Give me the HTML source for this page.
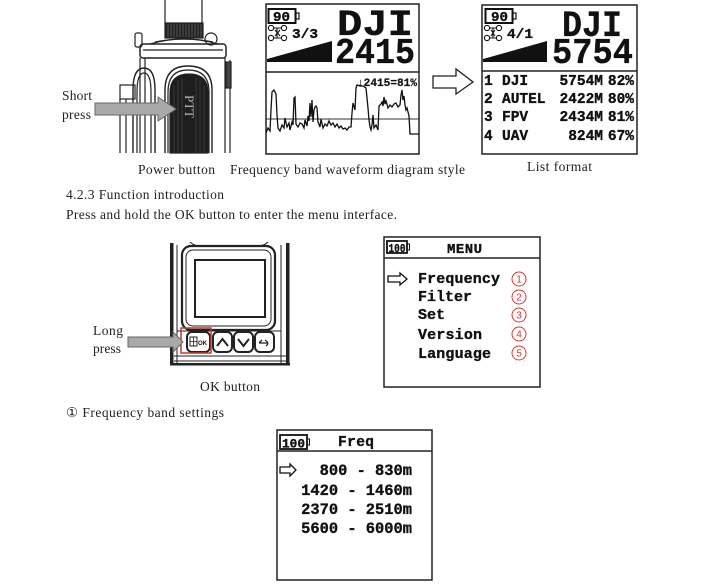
<!DOCTYPE html>
<html><head><meta charset="utf-8"><style>
html,body{margin:0;padding:0;background:#fff;}
svg{display:block;}
.s{font-family:"Liberation Serif","DejaVu Serif",serif;font-size:13.5px;fill:#222;}
.m{font-family:"Liberation Mono","DejaVu Sans Mono",monospace;font-weight:bold;fill:#111;stroke:#111;stroke-width:0.35px;}
</style></head><body>
<svg width="717" height="584" viewBox="0 0 717 584" xmlns="http://www.w3.org/2000/svg">
<rect width="717" height="584" fill="#fff"/>

<!-- ===== Top-left device ===== -->
<g fill="none" stroke="#222" stroke-width="1.2">
  <line x1="165" y1="0" x2="165" y2="24"/>
  <line x1="202" y1="0" x2="202" y2="24"/>
  <rect x="165" y="23" width="38" height="15" fill="#222"/>
  <g stroke="#777" stroke-width="0.6">
    <line x1="168" y1="24" x2="168" y2="37"/><line x1="171" y1="24" x2="171" y2="37"/><line x1="174" y1="24" x2="174" y2="37"/>
    <line x1="177" y1="24" x2="177" y2="37"/><line x1="180" y1="24" x2="180" y2="37"/><line x1="183" y1="24" x2="183" y2="37"/>
    <line x1="186" y1="24" x2="186" y2="37"/><line x1="189" y1="24" x2="189" y2="37"/><line x1="192" y1="24" x2="192" y2="37"/>
    <line x1="195" y1="24" x2="195" y2="37"/><line x1="198" y1="24" x2="198" y2="37"/><line x1="201" y1="24" x2="201" y2="37"/>
  </g>
  <path d="M150 44 Q184 34 218 44"/>
  <path d="M155 42 Q184 36 213 42"/>
  <rect x="140" y="44" width="86" height="14" rx="3" stroke-width="1.5"/>
  <line x1="143" y1="50" x2="223" y2="50"/>
  <rect x="135" y="33" width="7" height="14" rx="2"/>
  <circle cx="211" cy="39" r="6"/>
  <path d="M140 58 V153 M145 58 V153 M225 58 V153 M230 60 V153"/>
  <rect x="226" y="62" width="5" height="26" fill="#444"/>
  <path d="M133 153 V90 Q133 68 144 68 Q155 68 155 90 V153" stroke-width="1.4"/>
  <path d="M137 153 V92 Q137 73 144 73 Q151 73 151 92 V153"/>
  <rect x="120" y="85" width="15" height="14"/>
  <path d="M120 99 V153 M126 99 V153"/>
  <path d="M165 153 V90 Q165 66 188 66 Q212 66 212 90 V153" stroke-width="1.4"/>
  <path d="M168 153 V92 Q168 70 188 70 Q209 70 209 92 V153"/>
  <path d="M170 153 V93 Q170 74 189 74 Q208 74 208 93 V153 Z" fill="#1e1e1e"/>
  <g stroke="#4a4a4a" stroke-width="0.6">
    <line x1="174" y1="85" x2="174" y2="153"/><line x1="178" y1="80" x2="178" y2="153"/><line x1="182" y1="78" x2="182" y2="153"/>
    <line x1="196" y1="78" x2="196" y2="153"/><line x1="200" y1="80" x2="200" y2="153"/><line x1="204" y1="85" x2="204" y2="153"/>
  </g>
</g>
<text transform="translate(185,95) rotate(90)" font-family="Liberation Serif,serif" font-size="13" fill="#bbb">PTT</text>
<polygon points="95,103 158,103 158,97 176,109 158,121 158,115 95,115" fill="#a9a9a9" stroke="#666" stroke-width="1"/>
<text class="s" x="62" y="100" textLength="30">Short</text>
<text class="s" x="62" y="119" textLength="29">press</text>
<text class="s" x="138" y="174" textLength="77">Power button</text>
<text class="s" x="230" y="174" textLength="235">Frequency band waveform diagram style</text>

<!-- ===== Waveform screen ===== -->
<rect x="266" y="4" width="153" height="150" fill="none" stroke="#222" stroke-width="1.5"/>
<line x1="266" y1="72" x2="419" y2="72" stroke="#222" stroke-width="1.5"/>
<rect x="268.5" y="9" width="27" height="14" fill="none" stroke="#111" stroke-width="2"/>
<rect x="296" y="13" width="3" height="6" fill="none" stroke="#111" stroke-width="1.2"/>
<text class="m" x="273" y="21" font-size="14" textLength="17" lengthAdjust="spacingAndGlyphs">90</text>
<g fill="none" stroke="#111" stroke-width="1.1">
  <circle cx="271" cy="28" r="2.6"/><circle cx="284" cy="28" r="2.6"/>
  <circle cx="271" cy="38" r="2.6"/><circle cx="284" cy="38" r="2.6"/>
  <path d="M274 28 H281 M274 38 H281 M277 28 V38 M275 30 L280 36 M280 30 L275 36"/>
</g>
<text class="m" x="292" y="38" font-size="14" textLength="26" lengthAdjust="spacingAndGlyphs">3/3</text>
<polygon points="267,62 267,59 332,41 332,62" fill="#111"/>
<text class="m" x="337" y="35" font-size="37" textLength="76" lengthAdjust="spacingAndGlyphs">DJI</text>
<text class="m" x="335" y="63" font-size="36" textLength="80" lengthAdjust="spacingAndGlyphs">2415</text>
<text class="m" x="357" y="86" font-size="11" textLength="60" lengthAdjust="spacingAndGlyphs" style="stroke-width:0.2px">↓2415=81%</text>
<line x1="266" y1="119" x2="419" y2="119" stroke="#333" stroke-width="1"/>
<polyline fill="none" stroke="#111" stroke-width="1.3" points="266,133 268,128 270,131 271,110 272,92 274,90 276,94 277,115 278,128 280,131 282,125 284,128 285,118 287,127 289,123 290,130 292,122 293,125 294,98 295,97 296,124 298,127 300,123 302,124 304,128 305,120 307,126 308,116 309,121 310,103 311,117 312,100 313,122 314,110 315,107 316,106 317,108 318,122 320,127 321,119 323,128 325,124 327,126 329,121 331,125 333,123 335,127 337,124 339,128 341,126 343,129 345,128 347,130 349,127 351,127 352,113 353,103 355,110 356,88 357,85 360,86 363,86 366,88 368,108 369,120 370,127 371,130 372,125 373,115 374,128 376,125 378,130 379,106 381,104 382,102 383,106 384,97 385,104 386,101 388,108 390,105 392,107 394,104 396,103 398,107 400,105 401,95 402,90 403,100 404,96 405,105 406,110 407,108 408,112 409,116 410,134 419,134"/>

<!-- hollow arrow -->
<polygon points="433,76 456,76 456,69 473,82 456,94 456,88 433,88" fill="#fff" stroke="#222" stroke-width="1.3"/>

<!-- ===== List screen ===== -->
<rect x="482" y="5" width="155" height="149" fill="none" stroke="#222" stroke-width="1.5"/>
<line x1="482" y1="71" x2="637" y2="71" stroke="#222" stroke-width="1.5"/>
<rect x="485.5" y="9" width="27" height="14" fill="none" stroke="#111" stroke-width="2"/>
<rect x="513" y="13" width="3" height="6" fill="none" stroke="#111" stroke-width="1.2"/>
<text class="m" x="491" y="21" font-size="14" textLength="17" lengthAdjust="spacingAndGlyphs">90</text>
<g fill="none" stroke="#111" stroke-width="1.1">
  <circle cx="487" cy="28" r="2.6"/><circle cx="499" cy="28" r="2.6"/>
  <circle cx="487" cy="38" r="2.6"/><circle cx="499" cy="38" r="2.6"/>
  <path d="M490 28 H496 M490 38 H496 M493 28 V38 M491 30 L495 36 M495 30 L491 36"/>
</g>
<text class="m" x="507" y="38" font-size="14" textLength="26" lengthAdjust="spacingAndGlyphs">4/1</text>
<polygon points="483,62 483,59 547,41 547,62" fill="#111"/>
<text class="m" x="562" y="36" font-size="37" textLength="60" lengthAdjust="spacingAndGlyphs">DJI</text>
<text class="m" x="552" y="63" font-size="36" textLength="81" lengthAdjust="spacingAndGlyphs">5754</text>
<g class="m" font-size="14.5">
  <text x="484" y="85">1</text><text x="502" y="85">DJI</text>
  <text x="603" y="85" text-anchor="end">5754M</text><text x="634" y="85" text-anchor="end">82%</text>
  <text x="484" y="103">2</text><text x="502" y="103">AUTEL</text>
  <text x="603" y="103" text-anchor="end">2422M</text><text x="634" y="103" text-anchor="end">80%</text>
  <text x="484" y="121">3</text><text x="502" y="121">FPV</text>
  <text x="603" y="121" text-anchor="end">2434M</text><text x="634" y="121" text-anchor="end">81%</text>
  <text x="484" y="140">4</text><text x="502" y="140">UAV</text>
  <text x="603" y="140" text-anchor="end">824M</text><text x="634" y="140" text-anchor="end">67%</text>
</g>
<text class="s" x="527" y="171" textLength="65">List format</text>

<!-- ===== Section text ===== -->
<text class="s" x="66" y="199" textLength="158">4.2.3 Function introduction</text>
<text class="s" x="66" y="219" textLength="331">Press and hold the OK button to enter the menu interface.</text>

<!-- ===== Middle device ===== -->
<g fill="none" stroke="#222">
  <rect x="170" y="243" width="3.5" height="122" fill="#222" stroke="none"/>
  <rect x="286" y="243" width="3.5" height="122" fill="#222" stroke="none"/>
  <path d="M177 245 V365 M281 245 V365" stroke-width="1"/>
  <path d="M190 242 Q195 247 205 246 M268 242 Q263 247 253 246" stroke-width="1"/>
  <rect x="182" y="246" width="93" height="84" rx="9" stroke-width="2.2"/>
  <rect x="186" y="250" width="85" height="76" rx="7" stroke-width="1"/>
  <rect x="195" y="260" width="70" height="57" stroke-width="2"/>
  <path d="M177 331 H281" stroke-width="1"/>
  <rect x="187" y="332" width="23" height="20" rx="5" stroke-width="2"/>
  <rect x="213" y="332" width="19" height="20" rx="5" stroke-width="2"/>
  <rect x="234" y="332" width="19" height="20" rx="5" stroke-width="2"/>
  <rect x="255" y="332" width="19" height="20" rx="5" stroke-width="2"/>
  <polyline points="217,346 222.5,339 228,346" stroke-width="2"/>
  <polyline points="238,339 243.5,346 249,339" stroke-width="2"/>
  <rect x="190" y="337" width="7" height="9" stroke-width="1"/>
  <path d="M190 341.5 H197 M193.5 337 V346" stroke-width="0.8"/>
  <path d="M259 343 H268 M259 343 L262 340 M265 340 Q270 343 266 346" stroke-width="1.3"/>
  <path d="M174 356 H286 M174 361 H286" stroke-width="1"/>
  <rect x="170" y="363" width="120" height="2.5" fill="#222" stroke="none"/>
</g>
<text x="198" y="345" font-family="Liberation Sans,sans-serif" font-size="6" font-weight="bold" fill="#111">OK</text>
<rect x="181" y="328" width="30" height="25" fill="none" stroke="#c0392b" stroke-width="1.5"/>
<polygon points="128,337 173,337 173,332 183,342 173,352 173,347 128,347" fill="#a9a9a9" stroke="#666" stroke-width="1"/>
<text class="s" x="93" y="335" textLength="30">Long</text>
<text class="s" x="93" y="353" textLength="28">press</text>
<text class="s" x="200" y="391" textLength="60">OK button</text>

<!-- ===== Menu screen ===== -->
<rect x="384" y="237" width="156" height="150" fill="none" stroke="#222" stroke-width="1.5"/>
<line x1="384" y1="258" x2="540" y2="258" stroke="#222" stroke-width="1.5"/>
<rect x="387" y="241" width="20" height="12" fill="none" stroke="#111" stroke-width="1.8"/>
<rect x="407" y="244" width="2.5" height="6" fill="none" stroke="#111" stroke-width="1"/>
<text class="m" x="388.5" y="252" font-size="12" textLength="17" lengthAdjust="spacingAndGlyphs">100</text>
<text class="m" x="447" y="253" font-size="14" textLength="35">MENU</text>
<polygon points="388,276 400,276 400,273 407,279 400,285 400,282 388,282" fill="none" stroke="#111" stroke-width="1.3"/>
<g class="m" font-size="15">
  <text x="418" y="283" textLength="82">Frequency</text>
  <text x="418" y="301" textLength="54">Filter</text>
  <text x="418" y="319" textLength="27">Set</text>
  <text x="418" y="339" textLength="64">Version</text>
  <text x="418" y="358" textLength="73">Language</text>
</g>
<g fill="none" stroke="#d9382e" stroke-width="1">
  <circle cx="519" cy="279" r="7"/><circle cx="519" cy="297" r="7"/><circle cx="519" cy="315" r="7"/>
  <circle cx="519" cy="334" r="7"/><circle cx="519" cy="353" r="7"/>
</g>
<g font-family="Liberation Sans,sans-serif" font-size="10" fill="#d9382e" text-anchor="middle">
  <text x="519" y="282.5">1</text><text x="519" y="300.5">2</text><text x="519" y="318.5">3</text>
  <text x="519" y="337.5">4</text><text x="519" y="356.5">5</text>
</g>

<!-- ===== Freq section ===== -->
<text x="66" y="417" font-family="Liberation Serif,DejaVu Serif,serif" font-size="13.5" fill="#222" textLength="158">① Frequency band settings</text>
<rect x="277" y="430" width="155" height="150" fill="none" stroke="#222" stroke-width="1.5"/>
<line x1="277" y1="451" x2="432" y2="451" stroke="#222" stroke-width="1.5"/>
<rect x="280" y="435" width="27" height="14" fill="none" stroke="#111" stroke-width="1.8"/>
<rect x="307" y="439" width="2.5" height="6" fill="none" stroke="#111" stroke-width="1"/>
<text class="m" x="282" y="447.5" font-size="13" textLength="23" lengthAdjust="spacingAndGlyphs">100</text>
<text class="m" x="338" y="446" font-size="14.5" textLength="36">Freq</text>
<polygon points="280,467 290,467 290,464 296,470 290,476 290,473 280,473" fill="none" stroke="#111" stroke-width="1.3"/>
<g class="m" font-size="15.4" text-anchor="end">
  <text x="412" y="475">800 - 830m</text>
  <text x="412" y="495">1420 - 1460m</text>
  <text x="412" y="514">2370 - 2510m</text>
  <text x="412" y="533">5600 - 6000m</text>
</g>
</svg>
</body></html>
